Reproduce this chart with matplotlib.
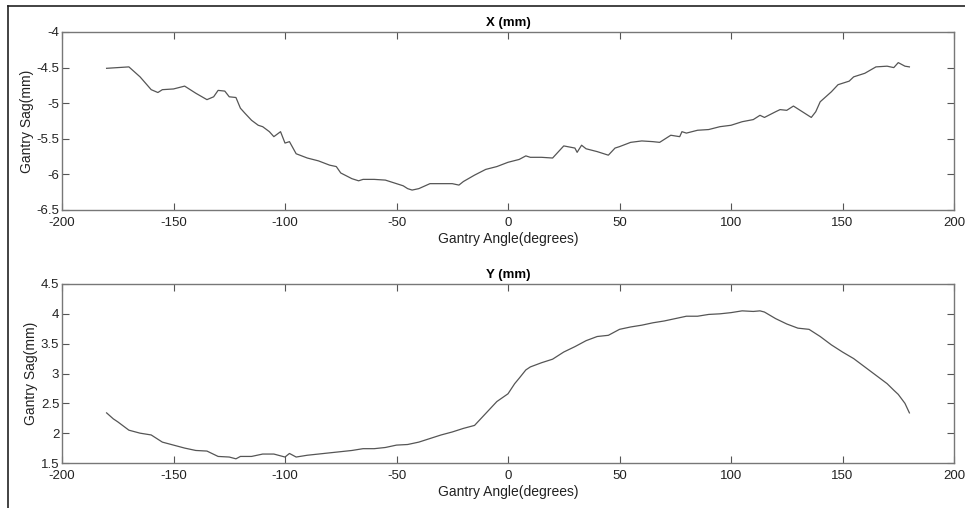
import matplotlib
matplotlib.use('Agg')
import matplotlib.pyplot as plt
from matplotlib.lines import Line2D

plt.rcParams['font.family'] = ['Liberation Sans', 'DejaVu Sans']

# gantry sag in X
x_angle = [-180, -175, -170, -165, -160, -157, -155, -150, -145, -140, -135, -132,
           -130, -127, -125, -122, -120, -118, -115, -112, -110, -107, -105, -102,
           -100, -98, -95, -90, -85, -80, -77, -75, -70, -67, -65, -60, -55, -50,
           -47, -45, -43, -40, -35, -30, -25, -22, -20, -15, -10, -5, 0, 5, 8, 10,
           15, 20, 25, 30, 31, 33, 35, 40, 45, 48, 50, 55, 60, 65, 68, 70, 73, 77,
           78, 80, 85, 90, 95, 100, 105, 110, 113, 115, 120, 122, 125, 128, 130,
           133, 136, 138, 140, 145, 148, 150, 153, 155, 160, 165, 170, 173, 175,
           178, 180]
x_sag = [-4.51, -4.50, -4.49, -4.63, -4.81, -4.85, -4.81, -4.80, -4.76, -4.86, -4.95, -4.91,
         -4.82, -4.83, -4.91, -4.92, -5.07, -5.14, -5.24, -5.31, -5.33, -5.40, -5.47, -5.40,
         -5.56, -5.54, -5.71, -5.77, -5.81, -5.87, -5.89, -5.98, -6.06, -6.09, -6.07, -6.07,
         -6.08, -6.13, -6.16, -6.20, -6.22, -6.20, -6.13, -6.13, -6.13, -6.15, -6.10, -6.01,
         -5.93, -5.89, -5.83, -5.79, -5.74, -5.76, -5.76, -5.77, -5.60, -5.63, -5.69, -5.59,
         -5.64, -5.68, -5.73, -5.63, -5.61, -5.55, -5.53, -5.54, -5.55, -5.51, -5.45, -5.47,
         -5.40, -5.42, -5.38, -5.37, -5.33, -5.31, -5.26, -5.23, -5.17, -5.20, -5.12, -5.09,
         -5.10, -5.04, -5.08, -5.14, -5.20, -5.12, -4.98, -4.84, -4.74, -4.72, -4.69, -4.63,
         -4.58, -4.49, -4.48, -4.50, -4.43, -4.48, -4.49]

# gantry sag in Y
y_angle = [-180, -177, -175, -170, -165, -160, -155, -150, -145, -140, -135, -130,
           -125, -122, -120, -115, -110, -105, -100, -98, -95, -90, -85, -80, -75,
           -70, -65, -60, -55, -50, -45, -40, -35, -30, -25, -20, -15, -10, -5, 0,
           3, 5, 8, 10, 15, 20, 25, 30, 35, 40, 45, 50, 55, 60, 65, 70, 75, 80, 85,
           90, 95, 100, 105, 110, 113, 115, 120, 125, 130, 135, 140, 145, 150, 155,
           160, 165, 170, 173, 175, 178, 180]
y_sag = [2.34, 2.24, 2.19, 2.05, 2.00, 1.97, 1.85, 1.80, 1.75, 1.71, 1.70, 1.61,
         1.60, 1.57, 1.61, 1.61, 1.65, 1.65, 1.60, 1.66, 1.60, 1.63, 1.65, 1.67, 1.69,
         1.71, 1.74, 1.74, 1.76, 1.80, 1.81, 1.85, 1.91, 1.97, 2.02, 2.08, 2.13, 2.33,
         2.53, 2.66, 2.83, 2.92, 3.06, 3.11, 3.18, 3.24, 3.36, 3.45, 3.55, 3.62, 3.64,
         3.74, 3.78, 3.81, 3.85, 3.88, 3.92, 3.96, 3.96, 3.99, 4.00, 4.02, 4.05, 4.04,
         4.05, 4.03, 3.92, 3.83, 3.76, 3.74, 3.62, 3.48, 3.36, 3.25, 3.11, 2.97, 2.83,
         2.72, 2.65, 2.50, 2.34]

x_ticks = [-200, -150, -100, -50, 0, 50, 100, 150, 200]
x_yticks = [-6.5, -6, -5.5, -5, -4.5, -4]
y_yticks = [1.5, 2, 2.5, 3, 3.5, 4, 4.5]


def fmt(v):
    return ('%g' % v)


def style_axes(ax, title, yticks):
    ax.set_xlim(-200, 200)
    ax.set_ylim(yticks[0], yticks[-1])
    ax.set_xticks(x_ticks)
    ax.set_xticklabels([fmt(t) for t in x_ticks])
    ax.set_yticks(yticks)
    ax.set_yticklabels([fmt(t) for t in yticks])
    ax.tick_params(direction='in', top=True, right=True, length=5, width=0.8,
                   color='#555555', labelsize=9.5, labelcolor='#222222')
    ax.tick_params(axis='x', pad=5)
    ax.tick_params(axis='y', pad=2)
    for s in ax.spines.values():
        s.set_color('#777777')
        s.set_linewidth(1.0)
    ax.set_title(title, fontsize=9.5, fontweight='bold', pad=4)
    ax.set_xlabel('Gantry Angle(degrees)', fontsize=10, color='#222222', labelpad=2)
    ax.set_ylabel('Gantry Sag(mm)', fontsize=10, color='#222222', labelpad=2)


fig = plt.figure(figsize=(9.65, 5.08), dpi=100)
W, H = 965, 508
ax1 = fig.add_axes([62 / W, 1 - 210 / H, (954 - 62) / W, (210 - 32) / H])
ax2 = fig.add_axes([62 / W, 1 - 463 / H, (954 - 62) / W, (463 - 284) / H])

ax1.plot(x_angle, x_sag, color='#555555', linewidth=0.9)
ax2.plot(y_angle, y_sag, color='#555555', linewidth=0.9)

style_axes(ax1, 'X (mm)', x_yticks)
style_axes(ax2, 'Y (mm)', y_yticks)

# frame lines of the screenshot (left and top)
fig.add_artist(Line2D([8 / W, 8 / W], [0, 1 - 6 / H], transform=fig.transFigure,
                      color='#222222', linewidth=1.2))
fig.add_artist(Line2D([8 / W, 1], [1 - 6 / H, 1 - 6 / H], transform=fig.transFigure,
                      color='#222222', linewidth=1.2))

fig.savefig('out.png', dpi=100)
